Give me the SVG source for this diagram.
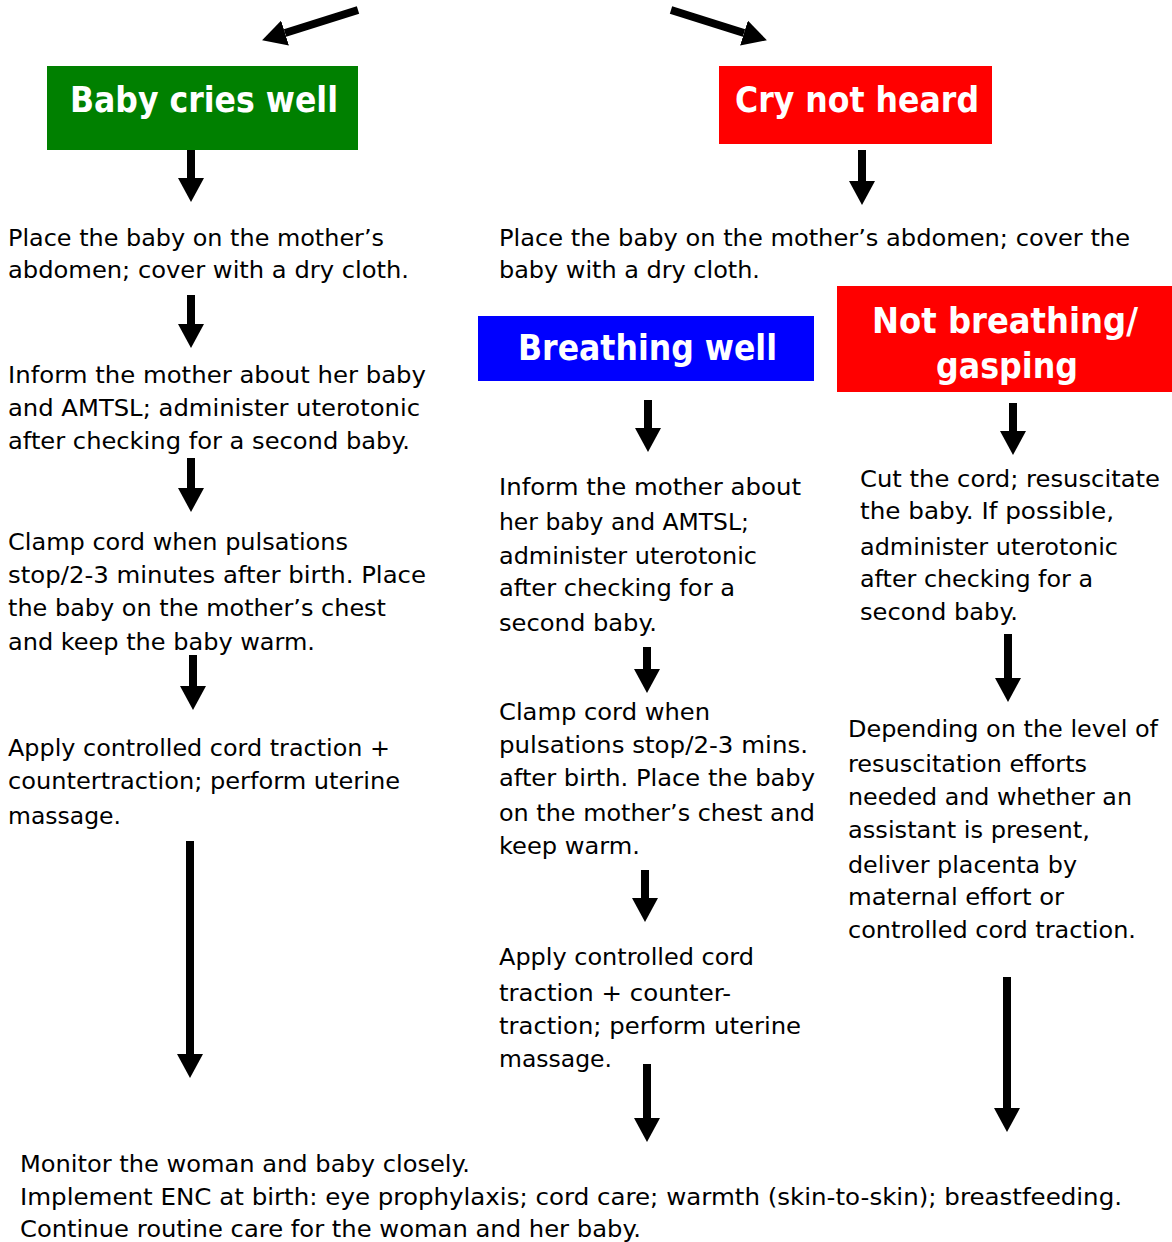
<svg xmlns="http://www.w3.org/2000/svg" width="1172" height="1242" viewBox="0 0 1172 1242">
<style>
.t{font-family:"DejaVu Sans","Liberation Sans",sans-serif;font-size:23px;fill:#000}
.h{font-family:"DejaVu Sans","Liberation Sans",sans-serif;font-size:36px;font-weight:bold;fill:#fff}
.a{stroke:#000;stroke-width:8;fill:none;marker-end:url(#ah)}
</style>
<defs>
<marker id="ah" markerUnits="userSpaceOnUse" markerWidth="24" markerHeight="26" viewBox="0 0 24 26" refX="0" refY="13" orient="auto">
<path d="M0,0 L24,13 L0,26 Z" fill="#000"/>
</marker>
</defs>
<g id="connectors">
<path class="a" d="M358,10 L285,33"/>
<path class="a" d="M671,10 L744,33"/>
<path class="a" d="M191,150 L191,178"/>
<path class="a" d="M191,295 L191,324"/>
<path class="a" d="M191,458 L191,488"/>
<path class="a" d="M193,655 L193,686"/>
<path class="a" d="M190,841 L190,1054"/>
<path class="a" d="M862,150 L862,181"/>
<path class="a" d="M648,400 L648,428"/>
<path class="a" d="M647,647 L647,669"/>
<path class="a" d="M645,870 L645,898"/>
<path class="a" d="M647,1064 L647,1118"/>
<path class="a" d="M1013,403 L1013,431"/>
<path class="a" d="M1008,634 L1008,678"/>
<path class="a" d="M1007,977 L1007,1108"/>
</g>
<g id="baby-cries-well">
<rect x="47" y="66" width="311" height="84" fill="#008000"/>
<text class="h" x="70" y="112" textLength="268" lengthAdjust="spacingAndGlyphs">Baby cries well</text>
</g>
<g id="cry-not-heard">
<rect x="719" y="66" width="273" height="78" fill="#ff0000"/>
<text class="h" x="735" y="112" textLength="244" lengthAdjust="spacingAndGlyphs">Cry not heard</text>
</g>
<g id="breathing-well">
<rect x="478" y="316" width="336" height="65" fill="#0000ff"/>
<text class="h" x="518" y="360" textLength="259" lengthAdjust="spacingAndGlyphs">Breathing well</text>
</g>
<g id="not-breathing">
<rect x="837" y="286" width="335" height="106" fill="#ff0000"/>
<text class="h" x="872" y="333" textLength="266" lengthAdjust="spacingAndGlyphs">Not breathing/</text>
<text class="h" x="936" y="378" textLength="142" lengthAdjust="spacingAndGlyphs">gasping</text>
</g>
<g id="left-1">
<text class="t" x="8" y="246" textLength="376" lengthAdjust="spacingAndGlyphs">Place the baby on the mother’s</text>
<text class="t" x="8" y="278" textLength="401" lengthAdjust="spacingAndGlyphs">abdomen; cover with a dry cloth.</text>
</g>
<g id="left-2">
<text class="t" x="8" y="383" textLength="418" lengthAdjust="spacingAndGlyphs">Inform the mother about her baby</text>
<text class="t" x="8" y="416" textLength="412" lengthAdjust="spacingAndGlyphs">and AMTSL; administer uterotonic</text>
<text class="t" x="8" y="449" textLength="402" lengthAdjust="spacingAndGlyphs">after checking for a second baby.</text>
</g>
<g id="left-3">
<text class="t" x="8" y="550" textLength="340" lengthAdjust="spacingAndGlyphs">Clamp cord when pulsations</text>
<text class="t" x="8" y="583" textLength="418" lengthAdjust="spacingAndGlyphs">stop/2-3 minutes after birth. Place</text>
<text class="t" x="8" y="616" textLength="378" lengthAdjust="spacingAndGlyphs">the baby on the mother’s chest</text>
<text class="t" x="8" y="650" textLength="307" lengthAdjust="spacingAndGlyphs">and keep the baby warm.</text>
</g>
<g id="left-4">
<text class="t" x="8" y="756" textLength="382" lengthAdjust="spacingAndGlyphs">Apply controlled cord traction +</text>
<text class="t" x="8" y="789" textLength="392" lengthAdjust="spacingAndGlyphs">countertraction; perform uterine</text>
<text class="t" x="8" y="824" textLength="113" lengthAdjust="spacingAndGlyphs">massage.</text>
</g>
<g id="right-1">
<text class="t" x="499" y="246" textLength="631" lengthAdjust="spacingAndGlyphs">Place the baby on the mother’s abdomen; cover the</text>
<text class="t" x="499" y="278" textLength="261" lengthAdjust="spacingAndGlyphs">baby with a dry cloth.</text>
</g>
<g id="blue-1">
<text class="t" x="499" y="495" textLength="302" lengthAdjust="spacingAndGlyphs">Inform the mother about</text>
<text class="t" x="499" y="530" textLength="250" lengthAdjust="spacingAndGlyphs">her baby and AMTSL;</text>
<text class="t" x="499" y="564" textLength="258" lengthAdjust="spacingAndGlyphs">administer uterotonic</text>
<text class="t" x="499" y="596" textLength="236" lengthAdjust="spacingAndGlyphs">after checking for a</text>
<text class="t" x="499" y="631" textLength="158" lengthAdjust="spacingAndGlyphs">second baby.</text>
</g>
<g id="blue-2">
<text class="t" x="499" y="720" textLength="211" lengthAdjust="spacingAndGlyphs">Clamp cord when</text>
<text class="t" x="499" y="753" textLength="309" lengthAdjust="spacingAndGlyphs">pulsations stop/2-3 mins.</text>
<text class="t" x="499" y="786" textLength="316" lengthAdjust="spacingAndGlyphs">after birth. Place the baby</text>
<text class="t" x="499" y="821" textLength="316" lengthAdjust="spacingAndGlyphs">on the mother’s chest and</text>
<text class="t" x="499" y="854" textLength="141" lengthAdjust="spacingAndGlyphs">keep warm.</text>
</g>
<g id="blue-3">
<text class="t" x="499" y="965" textLength="255" lengthAdjust="spacingAndGlyphs">Apply controlled cord</text>
<text class="t" x="499" y="1001" textLength="232" lengthAdjust="spacingAndGlyphs">traction + counter-</text>
<text class="t" x="499" y="1034" textLength="302" lengthAdjust="spacingAndGlyphs">traction; perform uterine</text>
<text class="t" x="499" y="1067" textLength="113" lengthAdjust="spacingAndGlyphs">massage.</text>
</g>
<g id="red-1">
<text class="t" x="860" y="487" textLength="300" lengthAdjust="spacingAndGlyphs">Cut the cord; resuscitate</text>
<text class="t" x="860" y="519" textLength="254" lengthAdjust="spacingAndGlyphs">the baby. If possible,</text>
<text class="t" x="860" y="555" textLength="258" lengthAdjust="spacingAndGlyphs">administer uterotonic</text>
<text class="t" x="860" y="587" textLength="233" lengthAdjust="spacingAndGlyphs">after checking for a</text>
<text class="t" x="860" y="620" textLength="158" lengthAdjust="spacingAndGlyphs">second baby.</text>
</g>
<g id="red-2">
<text class="t" x="848" y="737" textLength="310" lengthAdjust="spacingAndGlyphs">Depending on the level of</text>
<text class="t" x="848" y="772" textLength="239" lengthAdjust="spacingAndGlyphs">resuscitation efforts</text>
<text class="t" x="848" y="805" textLength="284" lengthAdjust="spacingAndGlyphs">needed and whether an</text>
<text class="t" x="848" y="838" textLength="242" lengthAdjust="spacingAndGlyphs">assistant is present,</text>
<text class="t" x="848" y="873" textLength="229" lengthAdjust="spacingAndGlyphs">deliver placenta by</text>
<text class="t" x="848" y="905" textLength="216" lengthAdjust="spacingAndGlyphs">maternal effort or</text>
<text class="t" x="848" y="938" textLength="288" lengthAdjust="spacingAndGlyphs">controlled cord traction.</text>
</g>
<g id="bottom">
<text class="t" x="20" y="1172" textLength="450" lengthAdjust="spacingAndGlyphs">Monitor the woman and baby closely.</text>
<text class="t" x="20" y="1205" textLength="1102" lengthAdjust="spacingAndGlyphs">Implement ENC at birth: eye prophylaxis; cord care; warmth (skin-to-skin); breastfeeding.</text>
<text class="t" x="20" y="1237" textLength="621" lengthAdjust="spacingAndGlyphs">Continue routine care for the woman and her baby.</text>
</g>
</svg>
